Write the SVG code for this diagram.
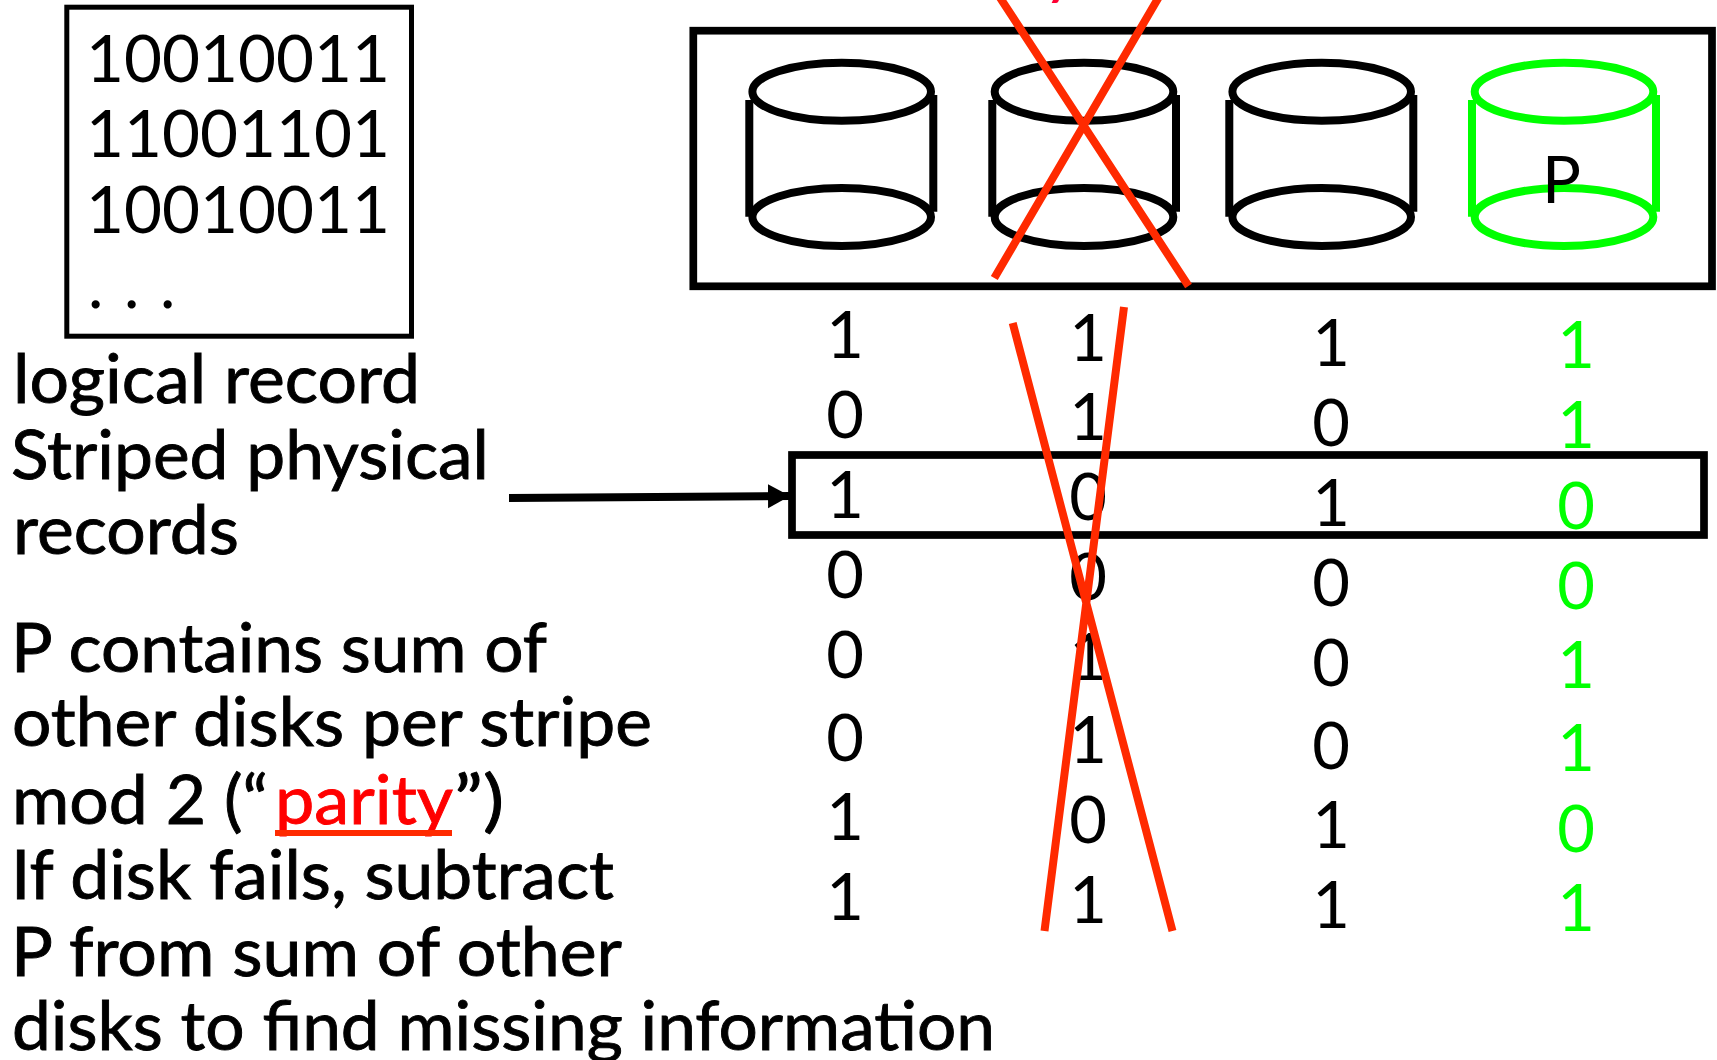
<svg xmlns="http://www.w3.org/2000/svg" width="1717" height="1060" viewBox="0 0 1717 1060">
<style>
text{font-family:"Lato","Open Sans","Liberation Sans",sans-serif;font-size:68px;fill:#000}
#labels text{stroke:#000;stroke-width:.9}
#labels text.red{fill:#ff0000;stroke:#ff0000}
.s{font-size:65px}
.d{font-size:65px;text-anchor:middle}
.g{fill:#00ff00}
.box{fill:none;stroke:#000;stroke-width:7.7}
.cyl{fill:none;stroke:#000;stroke-width:8}
.cyl.gr{stroke:#00ff00}
.x{fill:none;stroke:#ff2a00;stroke-width:8}
</style>
<defs>
<marker id="ah" markerUnits="userSpaceOnUse" markerWidth="24" markerHeight="26" refX="22" refY="13" orient="auto"><path d="M0 1L22 13L0 25Z" fill="#000"/></marker>
<g id="can"><ellipse cx="0" cy="91.7" rx="89.3" ry="29"/><ellipse cx="0" cy="217" rx="89.3" ry="29"/></g>
</defs>
<rect width="1717" height="1060" fill="#fff"/>
<g id="logical-record">
<rect x="66.8" y="7.2" width="344.7" height="329" fill="none" stroke="#000" stroke-width="5"/>
<text class="s" x="86" y="82" textLength="304" lengthAdjust="spacingAndGlyphs">10010011</text>
<text class="s" x="86" y="157" textLength="304" lengthAdjust="spacingAndGlyphs">11001101</text>
<text class="s" x="86" y="233" textLength="304" lengthAdjust="spacingAndGlyphs">10010011</text>
<text class="s" x="88 106 124 142 160" y="308">. . .</text>
</g>
<g id="disk-array">
<rect class="box" x="693.3" y="30.7" width="1018.7" height="255.6"/>
</g>
<g id="disk-1" class="cyl"><use href="#can" x="841.7"/><path d="M749.3 100V216.7M933.3 95V211.7"/></g>
<g id="disk-2" class="cyl"><use href="#can" x="1084"/><path d="M992.3 100V216.7M1176 95V211.7"/></g>
<g id="disk-3" class="cyl"><use href="#can" x="1321.7"/><path d="M1229.3 100V216.7M1413.3 95V211.7"/></g>
<g id="disk-parity"><g class="cyl gr"><use href="#can" x="1564"/><path d="M1472 100V216.7M1656 95V211.7"/></g>
<text class="s" x="1542" y="203">P</text></g>
<g id="stripe"><rect class="box" x="792" y="455" width="912" height="80"/></g>
<g id="col-1">
<text class="d" x="845" y="358">1</text><text class="d" x="845" y="438">0</text><text class="d" x="845" y="518">1</text><text class="d" x="845" y="598">0</text><text class="d" x="845" y="678">0</text><text class="d" x="845" y="761">0</text><text class="d" x="845" y="840">1</text><text class="d" x="845" y="920">1</text>
</g>
<g id="col-2">
<text class="d" x="1088" y="361">1</text><text class="d" x="1088" y="440">1</text><text class="d" x="1088" y="520">0</text><text class="d" x="1088" y="600">0</text><text class="d" x="1088" y="680">1</text><text class="d" x="1088" y="763">1</text><text class="d" x="1088" y="843">0</text><text class="d" x="1088" y="923">1</text>
</g>
<g id="col-3">
<text class="d" x="1331" y="366">1</text><text class="d" x="1331" y="446">0</text><text class="d" x="1331" y="526">1</text><text class="d" x="1331" y="606">0</text><text class="d" x="1331" y="686">0</text><text class="d" x="1331" y="769">0</text><text class="d" x="1331" y="848">1</text><text class="d" x="1331" y="928">1</text>
</g>
<g id="col-parity">
<text class="d g" x="1576" y="368">1</text><text class="d g" x="1576" y="448">1</text><text class="d g" x="1576" y="529">0</text><text class="d g" x="1576" y="609">0</text><text class="d g" x="1576" y="688">1</text><text class="d g" x="1576" y="771">1</text><text class="d g" x="1576" y="852">0</text><text class="d g" x="1576" y="931">1</text>
</g>
<g id="labels">
<text x="13" y="403" textLength="407" lengthAdjust="spacingAndGlyphs">logical record</text>
<text x="11" y="479" textLength="478" lengthAdjust="spacingAndGlyphs">Striped physical</text>
<text x="13" y="554" textLength="226" lengthAdjust="spacingAndGlyphs">records</text>
<text x="11" y="672" textLength="536" lengthAdjust="spacingAndGlyphs">P contains sum of</text>
<text x="12" y="746" textLength="640" lengthAdjust="spacingAndGlyphs">other disks per stripe</text>
<text x="12" y="824" textLength="256" lengthAdjust="spacingAndGlyphs">mod 2 (“</text>
<text class="red" x="275" y="824" textLength="178" lengthAdjust="spacingAndGlyphs">parity</text>
<text x="454" y="824" textLength="50" lengthAdjust="spacingAndGlyphs">”)</text>
<text x="11" y="899" textLength="603" lengthAdjust="spacingAndGlyphs">If disk fails, subtract</text>
<text x="11" y="976" textLength="611" lengthAdjust="spacingAndGlyphs">P from sum of other</text>
<text x="12" y="1050" textLength="983" lengthAdjust="spacingAndGlyphs">disks to find missing information</text>
<rect x="275" y="830" width="177" height="6" fill="#ff2a00"/>
</g>
<g id="connectors">
<line x1="509" y1="498" x2="790" y2="496" stroke="#000" stroke-width="8" marker-end="url(#ah)"/>
<g class="x">
<path d="M995 -10L1188.5 286M1163 -10L994.3 278"/>
<path d="M1012.7 323L1172.5 931M1124 307L1044.5 931"/>
</g>
</g>
<text x="1043" y="-9" style="fill:#ff0033">y</text>
</svg>
